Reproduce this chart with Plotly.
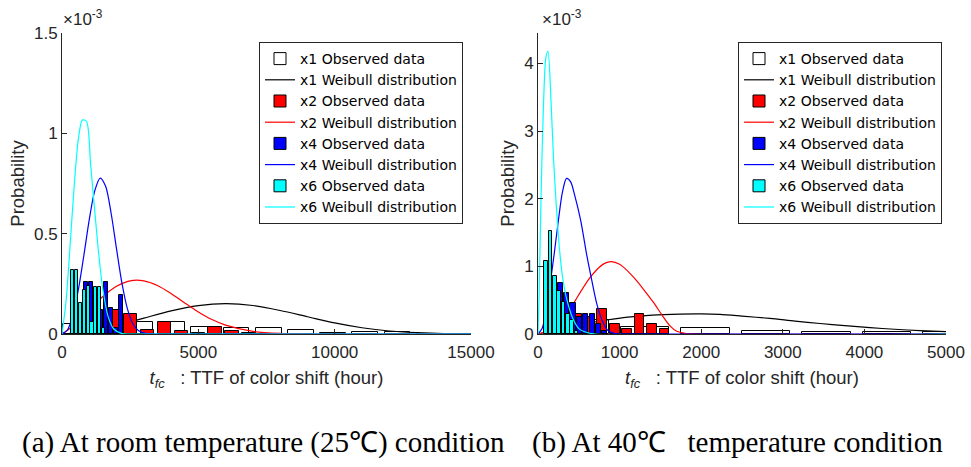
import plotly.graph_objects as go

# ---------------- Panel (a): room temperature (25 C) ----------------
# values of probability are in units of 1e-3
a_x1_obs_t = [500, 1680, 2860, 4040, 5220, 6400, 7580, 8760, 9940, 11120, 12300, 13480, 14660]
a_x1_obs_p = [0.05, 0.08, 0.06, 0.06, 0.037, 0.028, 0.03, 0.02, 0.003, 0.01, 0.012, 0.0, 0.0]
a_x2_obs_t = [660, 1280, 1900, 2520, 3140, 3760, 4380, 5000, 5620, 6240, 6860]
a_x2_obs_p = [0.04, 0.09, 0.12, 0.10, 0.02, 0.06, 0.016, 0.004, 0.037, 0.016, 0.004]
a_x4_obs_t = [500, 685, 870, 1055, 1240, 1425, 1610, 1795, 1980, 2165]
a_x4_obs_p = [0.05, 0.12, 0.257, 0.257, 0.18, 0.12, 0.26, 0.13, 0.03, 0.195]
a_x6_obs_t = [400, 540, 680, 820, 960, 1100, 1240, 1380, 1520]
a_x6_obs_p = [0.32, 0.32, 0.156, 0.22, 0.24, 0.06, 0.236, 0.236, 0.03]

a_x1_fit_t = [0, 1000, 2000, 3000, 4000, 5000, 6000, 7000, 8000, 9000, 10000, 11000, 12000, 13000, 14000, 15000]
a_x1_fit_p = [0, 0.013, 0.042, 0.079, 0.115, 0.141, 0.151, 0.142, 0.117, 0.086, 0.055, 0.031, 0.015, 0.007, 0.002, 0.001]
a_x2_fit_t = [0, 500, 1000, 1500, 2000, 2500, 3000, 3500, 4000, 4500, 5000, 5500, 6000, 7000, 8000, 9000, 10000, 15000]
a_x2_fit_p = [0, 0.05, 0.12, 0.187, 0.238, 0.265, 0.265, 0.242, 0.202, 0.155, 0.11, 0.072, 0.044, 0.013, 0.003, 0.0005, 0, 0]
a_x4_fit_t = [0, 200, 400, 600, 800, 1000, 1200, 1400, 1600, 1800, 2000, 2200, 2400, 2600, 2800, 3100, 3500, 15000]
a_x4_fit_p = [0, 0.02, 0.094, 0.221, 0.39, 0.57, 0.713, 0.777, 0.736, 0.603, 0.424, 0.252, 0.125, 0.051, 0.017, 0.002, 0, 0]
a_x6_fit_t = [0, 150, 300, 450, 600, 750, 900, 1050, 1200, 1350, 1500, 1700, 1900, 2200, 2600, 15000]
a_x6_fit_p = [0, 0.166, 0.447, 0.743, 0.971, 1.067, 1.059, 0.844, 0.615, 0.394, 0.221, 0.083, 0.025, 0.002, 0, 0]

# ---------------- Panel (b): 40 C ----------------
b_x1_obs_t = [570, 1311, 2052, 2793, 3534, 4275, 5016]
b_x1_obs_p = [0.2, 0.11, 0.09, 0.045, 0.035, 0.03, 0.035]
b_x2_obs_t = [172, 325, 478, 631, 784, 938, 1091, 1244, 1397, 1550]
b_x2_obs_p = [0.1, 0.2, 0.3, 0.25, 0.37, 0.15, 0.08, 0.3, 0.15, 0.08]
b_x4_obs_t = [195, 273, 351, 429, 507, 585, 663, 741, 819]
b_x4_obs_p = [0.5, 0.76, 0.61, 0.46, 0.25, 0.30, 0.30, 0.15, 0.04]
b_x6_obs_t = [100, 153, 206, 259, 312, 365, 418, 471]
b_x6_obs_p = [1.08, 1.52, 0.86, 0.64, 0.48, 0.3, 0.2, 0.05]

b_x1_fit_t = [0, 200, 400, 600, 841, 1100, 1400, 1740, 2000, 2230, 2500, 2843, 3150, 3456, 3760, 4069, 4370, 4681, 5000]
b_x1_fit_p = [0, 0.055, 0.108, 0.158, 0.207, 0.25, 0.28, 0.295, 0.298, 0.29, 0.265, 0.23, 0.19, 0.155, 0.124, 0.094, 0.07, 0.05, 0.035]
b_x2_fit_t = [0, 150, 300, 433, 520, 617, 720, 810, 900, 1000, 1100, 1200, 1300, 1413, 1520, 1618, 1700, 1800, 1950, 5000]
b_x2_fit_p = [0, 0.06, 0.22, 0.45, 0.62, 0.8, 0.95, 1.04, 1.07, 1.03, 0.93, 0.8, 0.65, 0.47, 0.28, 0.12, 0.04, 0.01, 0, 0]
b_x4_fit_t = [0, 50, 100, 150, 200, 250, 300, 350, 400, 450, 523, 600, 658, 720, 780, 850, 950, 1100, 5000]
b_x4_fit_p = [0, 0.08, 0.35, 0.75, 1.2, 1.68, 2.1, 2.3, 2.25, 2.05, 1.68, 1.15, 0.8, 0.45, 0.22, 0.06, 0.005, 0, 0]
b_x6_fit_t = [0, 12, 37, 65, 98, 122, 159, 190, 220, 260, 300, 355, 430, 500, 580, 700, 5000]
b_x6_fit_p = [0, 0.5, 2.0, 3.3, 4.1, 4.18, 3.46, 2.6, 1.98, 1.3, 0.85, 0.5, 0.22, 0.08, 0.03, 0, 0]

a_xticks = [0, 5000, 10000, 15000]
b_xticks = [0, 1000, 2000, 3000, 4000, 5000]
a_yticks = [0, 0.5, 1, 1.5]
b_yticks = [0, 1, 2, 3, 4]

series_names = ["x1", "x2", "x4", "x6"]
fill_colors = ["#FFFFFF", "#FF0000", "#0000FF", "#00FFFF"]
line_colors = ["#000000", "#FF0000", "#0000FF", "#00FFFF"]

panel_a = [
    (a_x1_obs_t, a_x1_obs_p, a_x1_fit_t, a_x1_fit_p, 944),
    (a_x2_obs_t, a_x2_obs_p, a_x2_fit_t, a_x2_fit_p, 495),
    (a_x4_obs_t, a_x4_obs_p, a_x4_fit_t, a_x4_fit_p, 148),
    (a_x6_obs_t, a_x6_obs_p, a_x6_fit_t, a_x6_fit_p, 112),
]
panel_b = [
    (b_x1_obs_t, b_x1_obs_p, b_x1_fit_t, b_x1_fit_p, 593),
    (b_x2_obs_t, b_x2_obs_p, b_x2_fit_t, b_x2_fit_p, 122),
    (b_x4_obs_t, b_x4_obs_p, b_x4_fit_t, b_x4_fit_p, 63),
    (b_x6_obs_t, b_x6_obs_p, b_x6_fit_t, b_x6_fit_p, 42),
]

W, H = 971, 467
fig = go.Figure()

def add_panel(groups, xname, ybase, legend):
    for g, (ot, op, ft, fp, bw) in enumerate(groups):
        yname = "y" if ybase + g == 1 else "y%d" % (ybase + g)
        fig.add_trace(go.Bar(
            x=ot, y=op, width=bw, name=series_names[g] + " Observed data",
            marker=dict(color=fill_colors[g], line=dict(color="#000000", width=1)),
            xaxis=xname, yaxis=yname, legend=legend))
        fig.add_trace(go.Scatter(
            x=ft, y=fp, mode="lines", name=series_names[g] + " Weibull distribution",
            line=dict(color=line_colors[g], width=1.2, shape="spline", smoothing=0.8),
            xaxis=xname, yaxis=yname, legend=legend))

add_panel(panel_a, "x", 1, "legend")
add_panel(panel_b, "x2", 5, "legend2")

dom_a = [62 / W, 471 / W]
dom_b = [538 / W, 946 / W]
dom_y = [1 - 334 / H, 1 - 33 / H]
axc = "#262626"
sans = "Arial, Liberation Sans, sans-serif"
tickfont = dict(family=sans, size=17, color=axc)
titlefont = dict(family=sans, size=18.5, color=axc)
xtitle = "<i>t</i><sub><i>fc</i></sub>\u00a0\u00a0\u00a0: TTF of color shift (hour)"

common_x = dict(showline=True, linecolor=axc, linewidth=1, ticks="inside", ticklen=5,
                tickcolor=axc, tickfont=tickfont, showgrid=False, zeroline=False,
                mirror=False, automargin=False, ticklabelstandoff=3,
                title=dict(text=xtitle, font=titlefont, standoff=9))
common_y = dict(showline=True, linecolor=axc, linewidth=1, ticks="inside", ticklen=5,
                tickcolor=axc, tickfont=tickfont, showgrid=False, zeroline=False,
                mirror=False, automargin=False,
                title=dict(text="Probability", font=titlefont, standoff=4))

leg_common = dict(y=1 - 42 / H, xanchor="left", yanchor="top",
                  bgcolor="white", bordercolor=axc, borderwidth=1,
                  font=dict(family="DejaVu Sans, Arial, sans-serif", size=14, color="black"),
                  tracegroupgap=0, itemwidth=30)

layout = dict(
    width=W, height=H, margin=dict(l=0, r=0, t=0, b=0, autoexpand=False),
    paper_bgcolor="white", plot_bgcolor="white", barmode="overlay", bargap=0,
    font=dict(family=sans, color=axc),
    xaxis=dict(domain=dom_a, range=[0, 15000], tickvals=a_xticks,
               ticktext=[str(v) for v in a_xticks], anchor="y", **common_x),
    xaxis2=dict(domain=dom_b, range=[0, 5000], tickvals=b_xticks,
                ticktext=[str(v) for v in b_xticks], anchor="y5", **common_x),
    yaxis=dict(domain=dom_y, range=[0, 1.5], tickvals=a_yticks,
               ticktext=["0", "0.5", "1", "1.5"], anchor="x", **common_y),
    yaxis5=dict(domain=dom_y, range=[0, 4.45], tickvals=b_yticks,
                ticktext=[str(v) for v in b_yticks], anchor="x2", **common_y),
    legend=dict(x=259 / W, **leg_common),
    legend2=dict(x=738 / W, **leg_common),
)
for k in (2, 3, 4):
    layout["yaxis%d" % k] = dict(overlaying="y", range=[0, 1.5], visible=False, anchor="x",
                                 automargin=False)
for k in (6, 7, 8):
    layout["yaxis%d" % k] = dict(overlaying="y5", range=[0, 4.45], visible=False, anchor="x2",
                                 automargin=False)
fig.update_layout(**layout)

sup_font = dict(family=sans, size=17, color=axc)
fig.add_annotation(text="\u00d710<sup>-3</sup>", x=61 / W, y=1 - 31 / H, xref="paper", yref="paper",
                   xanchor="left", yanchor="bottom", showarrow=False, font=sup_font)
fig.add_annotation(text="\u00d710<sup>-3</sup>", x=540 / W, y=1 - 31 / H, xref="paper", yref="paper",
                   xanchor="left", yanchor="bottom", showarrow=False, font=sup_font)

cap_font = dict(family="Times New Roman, Liberation Serif, serif", size=29, color="black")
fig.add_annotation(text="(a) At room temperature (25\u2103) condition", x=263 / W, y=1 - 442 / H,
                   xref="paper", yref="paper", xanchor="center", yanchor="middle",
                   showarrow=False, font=cap_font)
fig.add_annotation(text="(b) At 40\u2103\u00a0\u00a0\u00a0temperature condition", x=737 / W, y=1 - 442 / H,
                   xref="paper", yref="paper", xanchor="center", yanchor="middle",
                   showarrow=False, font=cap_font)

fig.write_html("out.html")
